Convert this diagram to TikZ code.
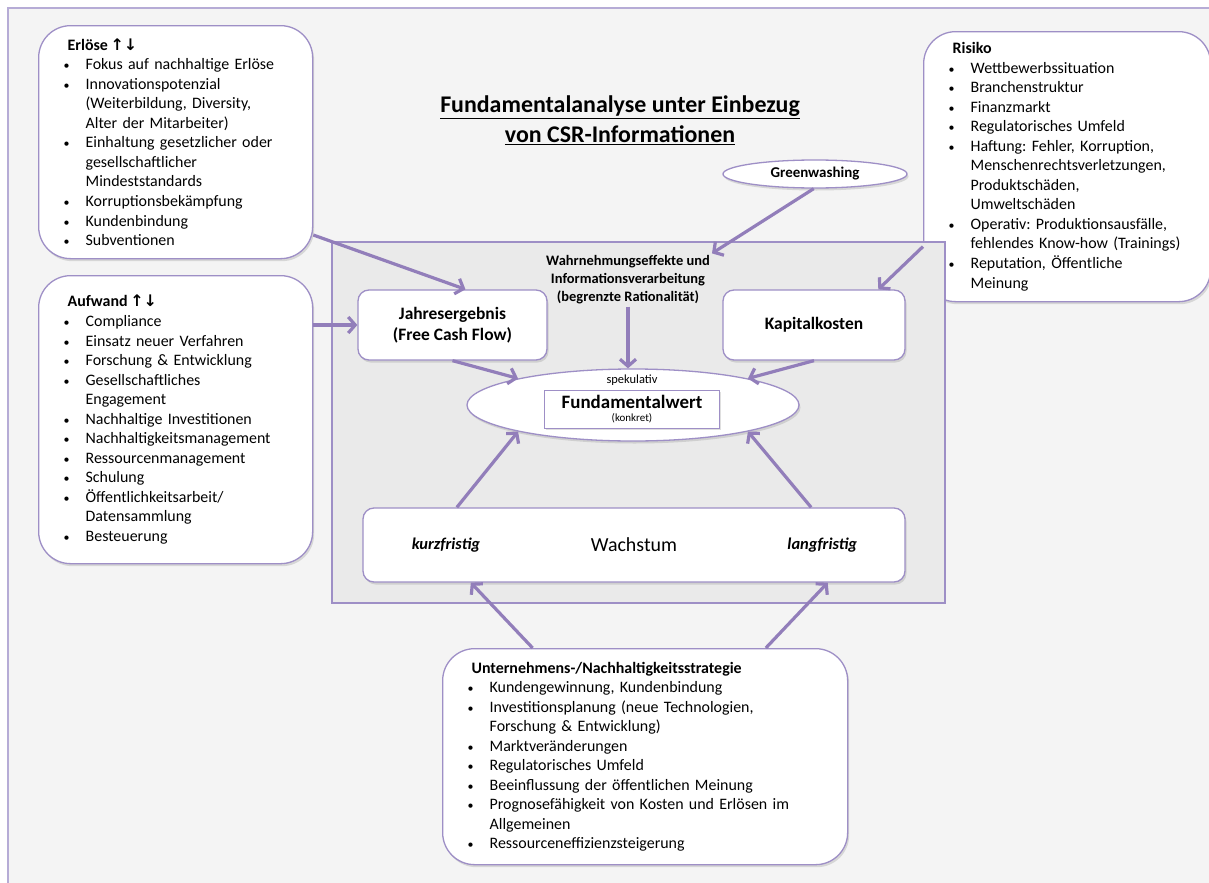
\documentclass[tikz,border=0pt]{standalone}
\usepackage{fontspec}
\setmainfont{Carlito}
\newfontfamily\symfont{DejaVu Sans}
\usetikzlibrary{arrows.meta,positioning,shapes.geometric,shadows}
\definecolor{framelila}{RGB}{182,172,214}
\definecolor{boxlila}{RGB}{158,143,198}
\definecolor{arrlila}{RGB}{146,126,186}
\definecolor{bggray}{RGB}{244,244,244}
\definecolor{innergray}{RGB}{234,234,234}
\newcommand{\bul}{\hspace*{25bp}\makebox[22bp][l]{\fontsize{12}{12}\selectfont\textbullet}}
\newcommand{\cnt}{\hspace*{47bp}}
\newcommand{\hd}[1]{\hspace*{29bp}\textbf{#1}}
\newcommand{\updown}{{\symfont\bfseries\,↑↓}}
\frenchspacing

\begin{document}
\begin{tikzpicture}[x=1bp,y=-1bp]
\tikzstyle{lst}=[draw=boxlila,line width=1.3bp,fill=white,rounded corners=32bp,anchor=north west,align=left,inner xsep=0pt,font=\fontsize{16}{19.6}\selectfont\frenchspacing,drop shadow={opacity=.25,shadow xshift=1.5bp,shadow yshift=-2.5bp}]
\tikzstyle{bx}=[draw=boxlila,line width=1.3bp,fill=white,rounded corners=11bp,align=center,drop shadow={opacity=.25,shadow xshift=1.5bp,shadow yshift=-2.5bp}]
\tikzstyle{arr}=[-{Straight Barb[length=7bp,width=16bp]},draw=arrlila,line width=3.2bp]
\useasboundingbox (0,0) rectangle (1209,883);
% background frame
\fill[white] (0,0) rectangle (1209,883);
\fill[bggray] (8,8) rectangle (1215,890);
\draw[framelila,line width=2bp] (8,890)--(8,8)--(1215,8);
% title
\node[align=center,font=\fontsize{24}{30}\selectfont\bfseries] (title) at (620,120) {\underline{Fundamentalanalyse unter Einbezug}\\\underline{von CSR-Informationen}};
% side boxes
\node[lst,text width=274bp,minimum height=233bp] (erl) at (38,25) {\hd{Erlöse\updown}\\
\bul Fokus auf nachhaltige Erlöse\\
\bul Innovationspotenzial\\
\cnt (Weiterbildung, Diversity,\\
\cnt Alter der Mitarbeiter)\\
\bul Einhaltung gesetzlicher oder\\
\cnt gesellschaftlicher\\
\cnt Mindeststandards\\
\bul Korruptionsbekämpfung\\
\bul Kundenbindung\\
\bul Subventionen};
\node[lst,text width=274bp,minimum height=288bp] (auf) at (38,275) {\hd{Aufwand\updown}\\
\bul Compliance\\
\bul Einsatz neuer Verfahren\\
\bul Forschung \& Entwicklung\\
\bul Gesellschaftliches\\
\cnt Engagement\\
\bul Nachhaltige Investitionen\\
\bul Nachhaltigkeitsmanagement\\
\bul Ressourcenmanagement\\
\bul Schulung\\
\bul Öffentlichkeitsarbeit/\\
\cnt Datensammlung\\
\bul Besteuerung};
\node[lst,text width=287bp,minimum height=270bp] (risk) at (923,31) {\hd{Risiko}\\
\bul Wettbewerbssituation\\
\bul Branchenstruktur\\
\bul Finanzmarkt\\
\bul Regulatorisches Umfeld\\
\bul Haftung: Fehler, Korruption,\\
\cnt Menschenrechtsverletzungen,\\
\cnt Produktschäden,\\
\cnt Umweltschäden\\
\bul Operativ: Produktionsausfälle,\\
\cnt fehlendes Know-how (Trainings)\\
\bul Reputation, Öffentliche\\
\cnt Meinung};
\node[lst,text width=405bp,minimum height=216bp] (strat) at (442,648) {\hd{Unternehmens-/Nachhaltigkeitsstrategie}\\
\bul Kundengewinnung, Kundenbindung\\
\bul Investitionsplanung (neue Technologien,\\
\cnt Forschung \& Entwicklung)\\
\bul Marktveränderungen\\
\bul Regulatorisches Umfeld\\
\bul Beeinflussung der öffentlichen Meinung\\
\bul Prognosefähigkeit von Kosten und Erlösen im\\
\cnt Allgemeinen\\
\bul Ressourceneffizienzsteigerung};
% inner panel
\node[draw=boxlila,line width=1.3bp,fill=innergray,minimum width=613bp,minimum height=361bp] (panel) at (638.5,422.5) {};
\node[ellipse,draw=boxlila,line width=1.3bp,fill=white,minimum width=184bp,minimum height=28bp,font=\fontsize{15}{18}\selectfont\bfseries,drop shadow={opacity=.25,shadow xshift=1.5bp,shadow yshift=-2.5bp}] (gw) at (815,174) {Greenwashing};
\node[align=center,inner sep=2bp,font=\fontsize{14.5}{18.2}\selectfont\bfseries] (wahr) at (628,280) {Wahrnehmungseffekte und\\Informationsverarbeitung\\(begrenzte Rationalität)};
\node[bx,minimum width=189bp,minimum height=70bp,font=\fontsize{17.5}{21}\selectfont\bfseries] (jahr) at (452.5,325) {Jahresergebnis\\(Free Cash Flow)};
\node[bx,minimum width=182bp,minimum height=70bp,font=\fontsize{17.5}{21}\selectfont\bfseries] (kap) at (814,325) {Kapitalkosten};
\node[ellipse,draw=boxlila,line width=1.3bp,fill=white,minimum width=332bp,minimum height=72bp,drop shadow={opacity=.25,shadow xshift=1.5bp,shadow yshift=-2.5bp}] (ell) at (633,405) {};
\node[draw=boxlila,line width=1bp,fill=white,minimum width=175bp,minimum height=38bp,inner sep=0bp,align=center,drop shadow={opacity=.25,shadow xshift=1bp,shadow yshift=-1.5bp}] (fund) at (632,409) {{\fontsize{19}{17}\selectfont\bfseries Fundamentalwert}\\[1bp]{\fontsize{11}{11}\selectfont (konkret)}};
\node[above=0bp of fund,font=\fontsize{12.5}{14}\selectfont] (spek) {spekulativ};
\node[bx,minimum width=542bp,minimum height=74bp,font=\fontsize{20}{24}\selectfont] (wach) at (634,545) {Wachstum};
\node[right=46bp of wach.west,font=\fontsize{16.5}{20}\selectfont\bfseries\itshape] (kurz) {kurzfristig};
\node[left=45bp of wach.east,font=\fontsize{16.5}{20}\selectfont\bfseries\itshape] (lang) {langfristig};
% arrows
\draw[arr] (erl.-34)--(jahr.70);
\draw[arr] (auf.east |- jahr.west)--(jahr.west);
\draw[arr] (gw.-95)--(wahr.north east);
\draw[arr] (risk.209)--(kap.29);
\draw[arr] (wahr.south)--(wahr.south |- ell.north);
\draw[arr] (jahr.south)--(ell.167);\draw[arr] (kap.south)--(ell.13);
\draw[arr] (wach.168)--(ell.193);\draw[arr] (wach.12)--(ell.-13);
\draw[arr] (strat.136)--(wach.-167);\draw[arr] (strat.42)--(wach.-11);
\end{tikzpicture}
\end{document}
